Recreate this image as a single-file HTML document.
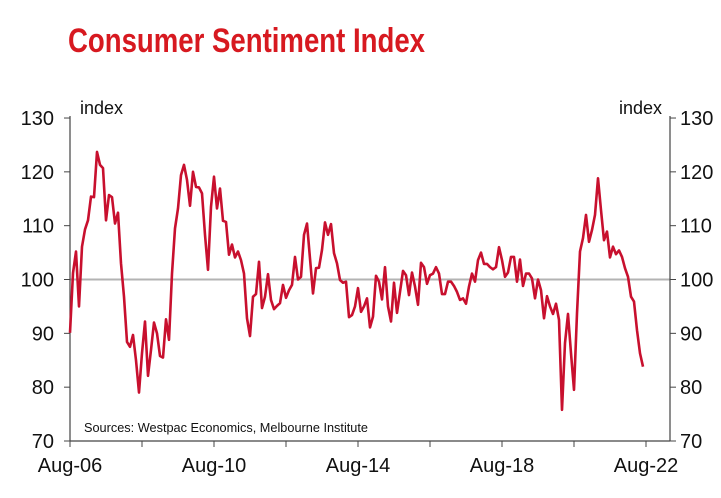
<!DOCTYPE html>
<html><head><meta charset="utf-8"><style>
body{margin:0;background:#fff;width:721px;height:498px;overflow:hidden;font-family:"Liberation Sans",sans-serif}
svg{position:absolute;left:0;top:0}
</style></head><body>
<svg id="chart" width="721" height="498" viewBox="0 0 721 498">
<text x="68" y="52" font-family="Liberation Sans, sans-serif" font-weight="bold" font-size="34" fill="#d71920" textLength="357" lengthAdjust="spacingAndGlyphs">Consumer Sentiment Index</text>
<g id="axes"></g>
<g id="series"></g>
<text x="84" y="432" font-size="12.5" fill="#111" textLength="284" lengthAdjust="spacingAndGlyphs">Sources: Westpac Economics, Melbourne Institute</text>
</svg>
<script>
const yTicks=[70,80,90,100,110,120,130];
const xTickLabels=["Aug-06","Aug-10","Aug-14","Aug-18","Aug-22"];
const startYear=2006;
const sentiment=[90.1,101.2,105.2,95,106.1,109.3,111,115.4,115.3,123.7,121.3,120.7,111,115.7,115.3,110.4,112.4,103,96.8,88.4,87.5,89.7,85,79,86.3,92.2,82.1,86.9,92,90,85.8,85.5,92.6,88.8,101.1,109.5,113.2,119.4,121.3,118.5,113.7,120,117.2,117.1,116,108.3,101.8,113.5,119.1,113.2,116.9,110.9,110.7,104.6,106.5,104.1,105.2,103.6,101.1,92.8,89.5,96.8,97.3,103.3,94.7,96.8,101,96.2,94.5,95.1,95.6,99,96.6,98,99,104.2,100,100.5,108.3,110.4,103.9,97.4,102.1,102.2,105.5,110.6,108.3,110.3,104.9,103,99.9,99.4,99.6,93,93.4,95,98.4,94,95,96.5,91.1,93.1,100.7,99.6,96.3,102.3,95,92.2,99.4,93.8,97.7,101.6,100.8,97.1,101.3,98.7,95.3,103.1,102.3,99.2,100.8,101.1,102.3,101.1,97.3,97.3,99.6,99.6,98.8,97.7,96.2,96.5,95.5,98.7,101.1,99.6,103.6,105,102.9,102.9,102.3,101.9,102.3,106,103.6,100.5,101.3,104.2,104.2,99.6,103.7,98.8,101.1,101.1,100.2,96.5,100,98,92.8,96.9,95,93.6,95.5,92.5,75.8,88.2,93.6,86.3,79.5,93.7,105.2,107.7,112,107,109.2,112,118.8,112.9,107.3,108.9,104.1,106.1,104.7,105.4,104.2,102.1,100.5,96.8,95.9,90.6,86.3,83.8];
const X0=70,X1=670,Y70=441,PPU=5.383,PPM=3;
const xs=i=>X0+i*PPM;
const ys=v=>Y70-(v-70)*PPU;
const NS="http://www.w3.org/2000/svg";
function mk(tag,attrs,parent){const e=document.createElementNS(NS,tag);for(const k in attrs)e.setAttribute(k,attrs[k]);parent.appendChild(e);return e;}
const ax=document.getElementById('axes');
let l=mk('line',{x1:X0,y1:ys(100),x2:X1,y2:ys(100),stroke:'#b3b3b3','stroke-width':2},ax);


l=mk('line',{x1:X0,y1:ys(130)-2,x2:X0,y2:Y70,stroke:'#444','stroke-width':1.2},ax);


l=mk('line',{x1:X1,y1:ys(130)-2,x2:X1,y2:Y70,stroke:'#444','stroke-width':1.2},ax);


l=mk('line',{x1:X0,y1:Y70,x2:X1,y2:Y70,stroke:'#444','stroke-width':1.2},ax);


yTicks.forEach(v=>{
  const y=ys(v);
  let t=mk('line',{x1:X0-6,y1:y,x2:X0,y2:y,stroke:'#444'},ax);
  
  
  t=mk('line',{x1:X1,y1:y,x2:X1+6,y2:y,stroke:'#444'},ax);
  
  
  let tx=mk('text',{x:54,y:y+7,'text-anchor':'end','font-size':20,fill:'#111'},ax);
  tx.textContent=v;
  
  
  tx=mk('text',{x:680,y:y+7,'font-size':20,fill:'#111'},ax);
  tx.textContent=v;
  
  
});
for(let k=0;k<=8;k++){
  const x=xs(k*24);
  let t=mk('line',{x1:x,y1:Y70,x2:x,y2:Y70+6,stroke:'#444'},ax);
  
  
}
xTickLabels.forEach((s,k)=>{
  const tx=mk('text',{x:xs(k*48),y:472,'text-anchor':'middle','font-size':20,fill:'#111'},ax);
  tx.textContent=s;
  
  
});
let u=mk('text',{x:80,y:114,'font-size':18,fill:'#111'},ax);
u.textContent='index';


u=mk('text',{x:662,y:114,'text-anchor':'end','font-size':18,fill:'#111'},ax);
u.textContent='index';


const p=mk('polyline',{points:sentiment.map((v,i)=>xs(i)+','+ys(v)).join(' '),fill:'none',stroke:'#c8102e','stroke-width':2.6,'stroke-linejoin':'round'},document.getElementById('series'));


</script>
</body></html>
